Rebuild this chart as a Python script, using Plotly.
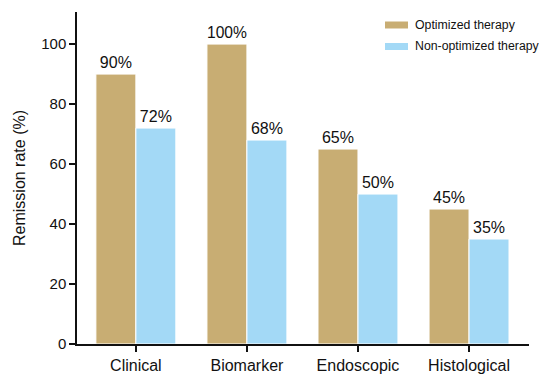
import plotly.graph_objects as go

categories = ["Clinical", "Biomarker", "Endoscopic", "Histological"]
optimized = [90, 100, 65, 45]
non_optimized = [72, 68, 50, 35]
series_names = ["Optimized therapy", "Non-optimized therapy"]
y_ticks = [0, 20, 40, 60, 80, 100]

GOLD = "#C8AD73"
BLUE = "#A3D9F6"
FONT = "Liberation Sans, Arial, sans-serif"

fig = go.Figure()
for name, vals, col in [(series_names[0], optimized, GOLD), (series_names[1], non_optimized, BLUE)]:
    fig.add_trace(go.Bar(
        x=categories, y=vals, name=name,
        marker=dict(color=col, line=dict(color="white", width=1)),
        text=[f"{v}%" for v in vals], textposition="outside",
        textfont=dict(size=16, color="#111"), cliponaxis=False,
        showlegend=False,
    ))

L, R, T, B = 77, 19, 12, 30
W, H = 548, 374
pw, ph = W - L - R, H - T - B

def px(xp):
    return (xp - L) / pw

def py(yp):
    return (H - B - yp) / ph

legend_rows = [(series_names[0], GOLD, 25), (series_names[1], BLUE, 46.5)]
shapes = []
annotations = []
for name, col, yc in legend_rows:
    shapes.append(dict(type="rect", xref="paper", yref="paper",
                       x0=px(385), x1=px(408), y0=py(yc + 3.5), y1=py(yc - 3.5),
                       fillcolor=col, line=dict(width=0)))
    annotations.append(dict(xref="paper", yref="paper", x=px(413), y=py(yc),
                            text=name, showarrow=False, xanchor="left", yanchor="middle",
                            font=dict(size=12.3, color="#111", family=FONT)))

fig.update_layout(
    width=W, height=H,
    margin=dict(l=L, r=R, t=T, b=B, autoexpand=False),
    paper_bgcolor="white", plot_bgcolor="white",
    barmode="group", bargap=0.28, bargroupgap=0,
    font=dict(family=FONT, color="#111"),
    shapes=shapes, annotations=annotations,
    xaxis=dict(range=[-0.53, 3.54], showline=True, linecolor="#111", linewidth=1.5,
               ticks="outside", ticklen=6, tickcolor="#111", tickwidth=1.5,
               tickfont=dict(size=16, color="#111"), showgrid=False, zeroline=False,
               automargin=False),
    yaxis=dict(range=[0, 110.7], tickvals=y_ticks, showline=True, linecolor="#111", linewidth=1.5,
               ticks="outside", ticklen=6, tickcolor="#111", tickwidth=1.5,
               tickfont=dict(size=15, color="#111"), showgrid=False, zeroline=False,
               automargin=False,
               title=dict(text="Remission rate (%)", font=dict(size=16, color="#111"), standoff=12)),
)

fig.write_html("out.html")
